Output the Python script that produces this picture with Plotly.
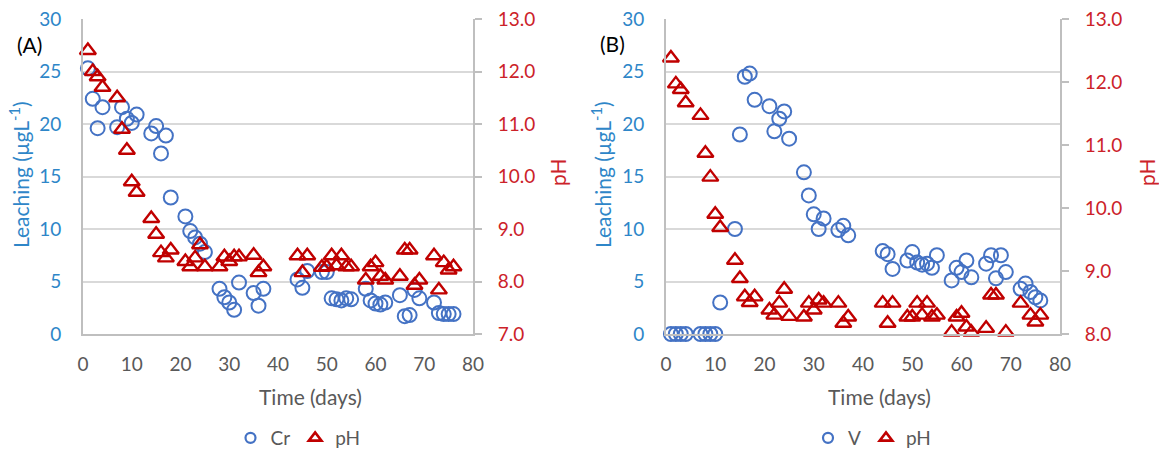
import plotly.graph_objects as go

# ---------------- Data ----------------
# Panel A: Cr leaching
cr_days = [1, 2, 3, 4, 7, 8, 9, 10, 11, 14, 15, 16, 17, 18, 21, 22, 23, 24, 25,
           28, 29, 30, 31, 32, 35, 36, 37, 44, 45, 46, 49, 50, 51, 52, 53, 54, 55,
           58, 59, 60, 61, 62, 65, 66, 67, 68, 69, 72, 73, 74, 75, 76]
cr_vals = [25.3, 22.4, 19.6, 21.6, 19.7, 21.6, 20.5, 20.1, 20.9, 19.1, 19.8, 17.2, 18.9, 13.0,
           11.2, 9.8, 9.2, 8.6, 7.8, 4.3, 3.5, 3.0, 2.3, 4.9, 3.9, 2.7, 4.3,
           5.2, 4.4, 6.0, 5.9, 5.9, 3.4, 3.3, 3.2, 3.4, 3.3,
           4.3, 3.2, 2.9, 2.8, 3.0, 3.7, 1.7, 1.8, 4.2, 3.4, 3.0, 2.0, 1.9, 1.9, 1.9]
pha_days = [1, 2, 3, 4, 7, 8, 9, 10, 11, 14, 15, 16, 17, 18, 21, 22, 23, 24, 25,
            28, 29, 30, 31, 32, 35, 36, 37, 44, 45, 46, 49, 50, 51, 52, 53, 54, 55,
            58, 59, 60, 61, 62, 65, 66, 67, 68, 69, 72, 73, 74, 75, 76]
pha_vals = [12.4, 12.0, 11.9, 11.7, 11.5, 10.9, 10.5, 9.9, 9.7, 9.2, 8.9, 8.55, 8.45, 8.6,
            8.38, 8.28, 8.45, 8.7, 8.28, 8.28, 8.47, 8.38, 8.47, 8.47, 8.5, 8.17, 8.28,
            8.49, 8.17, 8.49, 8.27, 8.28, 8.49, 8.3, 8.49, 8.28, 8.28,
            8.03, 8.28, 8.36, 8.1, 8.03, 8.1, 8.6, 8.6, 7.93, 8.03, 8.49, 7.84, 8.36, 8.22, 8.28]

# Panel B: V leaching
v_days = [1, 2, 3, 4, 7, 8, 9, 10, 11, 14, 15, 16, 17, 18, 21, 22, 23, 24, 25,
          28, 29, 30, 31, 32, 35, 36, 37, 44, 45, 46, 49, 50, 51, 52, 53, 54, 55,
          58, 59, 60, 61, 62, 65, 66, 67, 68, 69, 72, 73, 74, 75, 76]
v_vals = [0, 0, 0, 0, 0, 0, 0, 0, 3.0, 10.0, 19.0, 24.5, 24.8, 22.3, 21.7, 19.3, 20.5, 21.2, 18.6,
          15.4, 13.2, 11.4, 10.0, 11.0, 9.9, 10.3, 9.4, 7.9, 7.6, 6.2, 7.0, 7.8, 6.8, 6.6, 6.7, 6.3, 7.5,
          5.1, 6.3, 5.9, 7.0, 5.4, 6.7, 7.5, 5.3, 7.5, 5.9, 4.3, 4.8, 4.0, 3.5, 3.2]
phb_days = [1, 2, 3, 4, 7, 8, 9, 10, 11, 14, 15, 16, 17, 18, 21, 22, 23, 24, 25,
            28, 29, 30, 31, 32, 35, 36, 37, 44, 45, 46, 49, 50, 51, 52, 53, 54, 55,
            58, 59, 60, 61, 62, 65, 66, 67, 69, 72, 74, 75, 76]
phb_vals = [12.38, 11.97, 11.88, 11.67, 11.47, 10.87, 10.49, 9.9, 9.69, 9.17, 8.88, 8.59, 8.5, 8.59,
            8.38, 8.3, 8.49, 8.71, 8.28, 8.27, 8.49, 8.38, 8.54, 8.49, 8.49, 8.17, 8.27,
            8.49, 8.17, 8.49, 8.27, 8.27, 8.49, 8.3, 8.49, 8.27, 8.3,
            8.03, 8.27, 8.33, 8.11, 8.03, 8.09, 8.62, 8.62, 8.03, 8.49, 8.3, 8.19, 8.3]

x_ticks = [0, 10, 20, 30, 40, 50, 60, 70, 80]
left_ticks = [0, 5, 10, 15, 20, 25, 30]
ph_ticks_a = [7, 8, 9, 10, 11, 12, 13]
ph_ticks_b = [8, 9, 10, 11, 12, 13]

# ---------------- Styles ----------------
FONT = "Lato, 'Open Sans', sans-serif"
BLUE = "#4472C4"
BLUE_TXT = "#2E86C8"
RED = "#C00000"
RED_TXT = "#CC2229"
GRAY_TXT = "#595959"
GRID = "#D9D9D9"
AXLINE = "#BFBFBF"
TICK_SIZE = 19
TITLE_SIZE = 21

W, H = 1159, 450
def px_x(p):
    return p / W
def px_y(p):
    return 1 - p / H

circle = dict(symbol="circle-open", size=14, color=BLUE, line=dict(width=2, color=BLUE))
tri = dict(symbol="triangle-up-open", size=14, color=RED, line=dict(width=2.4, color=RED))
circle_leg = dict(symbol="circle-open", size=10, color=BLUE, line=dict(width=2.2, color=BLUE))
tri_leg = dict(symbol="triangle-up-open", size=11, color=RED, line=dict(width=2.6, color=RED))

fig = go.Figure()
fig.add_trace(go.Scatter(x=cr_days, y=cr_vals, mode="markers", name="Cr", marker=circle,
                         xaxis="x", yaxis="y", cliponaxis=False, showlegend=False))
fig.add_trace(go.Scatter(x=pha_days, y=pha_vals, mode="markers", name="pH", marker=tri,
                         xaxis="x", yaxis="y2", cliponaxis=False, showlegend=False))
fig.add_trace(go.Scatter(x=v_days, y=v_vals, mode="markers", name="V", marker=circle,
                         xaxis="x2", yaxis="y3", cliponaxis=False, showlegend=False))
fig.add_trace(go.Scatter(x=phb_days, y=phb_vals, mode="markers", name="pH", marker=tri,
                         xaxis="x2", yaxis="y4", cliponaxis=False, showlegend=False))
# legend entries (same series names / symbols, drawn at legend size)
for nm, mk, xa, ya, lg in [("Cr", circle_leg, "x", "y", "legend"), ("pH", tri_leg, "x", "y2", "legend"),
                           ("V", circle_leg, "x2", "y3", "legend2"), ("pH", tri_leg, "x2", "y4", "legend2")]:
    fig.add_trace(go.Scatter(x=[None], y=[None], mode="markers", name=nm, marker=mk,
                             xaxis=xa, yaxis=ya, legend=lg, showlegend=True, hoverinfo="skip"))

ydom = [px_y(334), px_y(19)]

def xaxis(dom, anchor):
    return dict(domain=dom, anchor=anchor, range=[0, 80], tickvals=x_ticks,
                showgrid=False, zeroline=False, showline=True, linecolor=AXLINE, linewidth=2,
                ticks="", tickfont=dict(family=FONT, size=TICK_SIZE, color=GRAY_TXT),
                ticklabelstandoff=12, fixedrange=True)

def yleft(anchor):
    return dict(domain=ydom, anchor=anchor, range=[0, 30], tickvals=left_ticks,
                showgrid=True, gridcolor=GRID, gridwidth=1.5, zeroline=False,
                showline=True, linecolor=AXLINE, linewidth=2, ticks="",
                tickfont=dict(family=FONT, size=TICK_SIZE, color=BLUE_TXT),
                ticklabelstandoff=16, fixedrange=True)

def yright(anchor, overlay, rng, tv):
    return dict(domain=ydom, anchor=anchor, overlaying=overlay, side="right", range=rng,
                tickvals=tv, tickformat=".1f", showgrid=False, zeroline=False,
                showline=True, linecolor=AXLINE, linewidth=2,
                ticks="outside", ticklen=7, tickwidth=2, tickcolor=AXLINE,
                tickfont=dict(family=FONT, size=TICK_SIZE, color=RED_TXT),
                ticklabelstandoff=12, fixedrange=True)

dom_a = [px_x(83), px_x(473)]
dom_b = [px_x(666), px_x(1060)]

def ann(text, x, y, color, size=TITLE_SIZE, angle=0):
    return dict(text=text, x=px_x(x), y=px_y(y), xref="paper", yref="paper", showarrow=False,
                xanchor="center", yanchor="middle", textangle=angle,
                font=dict(family=FONT, size=size, color=color))

annotations = [
    ann("(A)", 29, 45, "#000000", size=21),
    ann("(B)", 612, 43, "#000000", size=21),
    ann("Time (days)", 310, 396, GRAY_TXT),
    ann("Time (days)", 879, 396, GRAY_TXT),
    ann("Leaching (µgL<sup>-1</sup>)", 19, 175, BLUE_TXT, angle=-90),
    ann("Leaching (µgL<sup>-1</sup>)", 601, 175, BLUE_TXT, angle=-90),
    ann("pH", 557, 172, RED_TXT, angle=-90),
    ann("pH", 1146, 172, RED_TXT, angle=-90),
]

legend_common = dict(orientation="h", xanchor="center", yanchor="middle",
                     font=dict(family=FONT, size=TICK_SIZE, color=GRAY_TXT), bgcolor="rgba(0,0,0,0)",
                     itemwidth=30, tracegroupgap=0)

fig.update_layout(
    width=W, height=H, margin=dict(l=0, r=0, t=0, b=0, pad=0, autoexpand=False),
    paper_bgcolor="white", plot_bgcolor="white",
    font=dict(family=FONT),
    showlegend=True,
    xaxis=xaxis(dom_a, "y"),
    yaxis=yleft("x"),
    yaxis2=yright("x", "y", [7, 13], ph_ticks_a),
    xaxis2=xaxis(dom_b, "y3"),
    yaxis3=yleft("x2"),
    yaxis4=yright("x2", "y3", [8, 13], ph_ticks_b),
    legend=dict(x=px_x(298), y=px_y(438), **legend_common),
    legend2=dict(x=px_x(872), y=px_y(438), **legend_common),
    annotations=annotations,
)

fig.write_html("out.html")
